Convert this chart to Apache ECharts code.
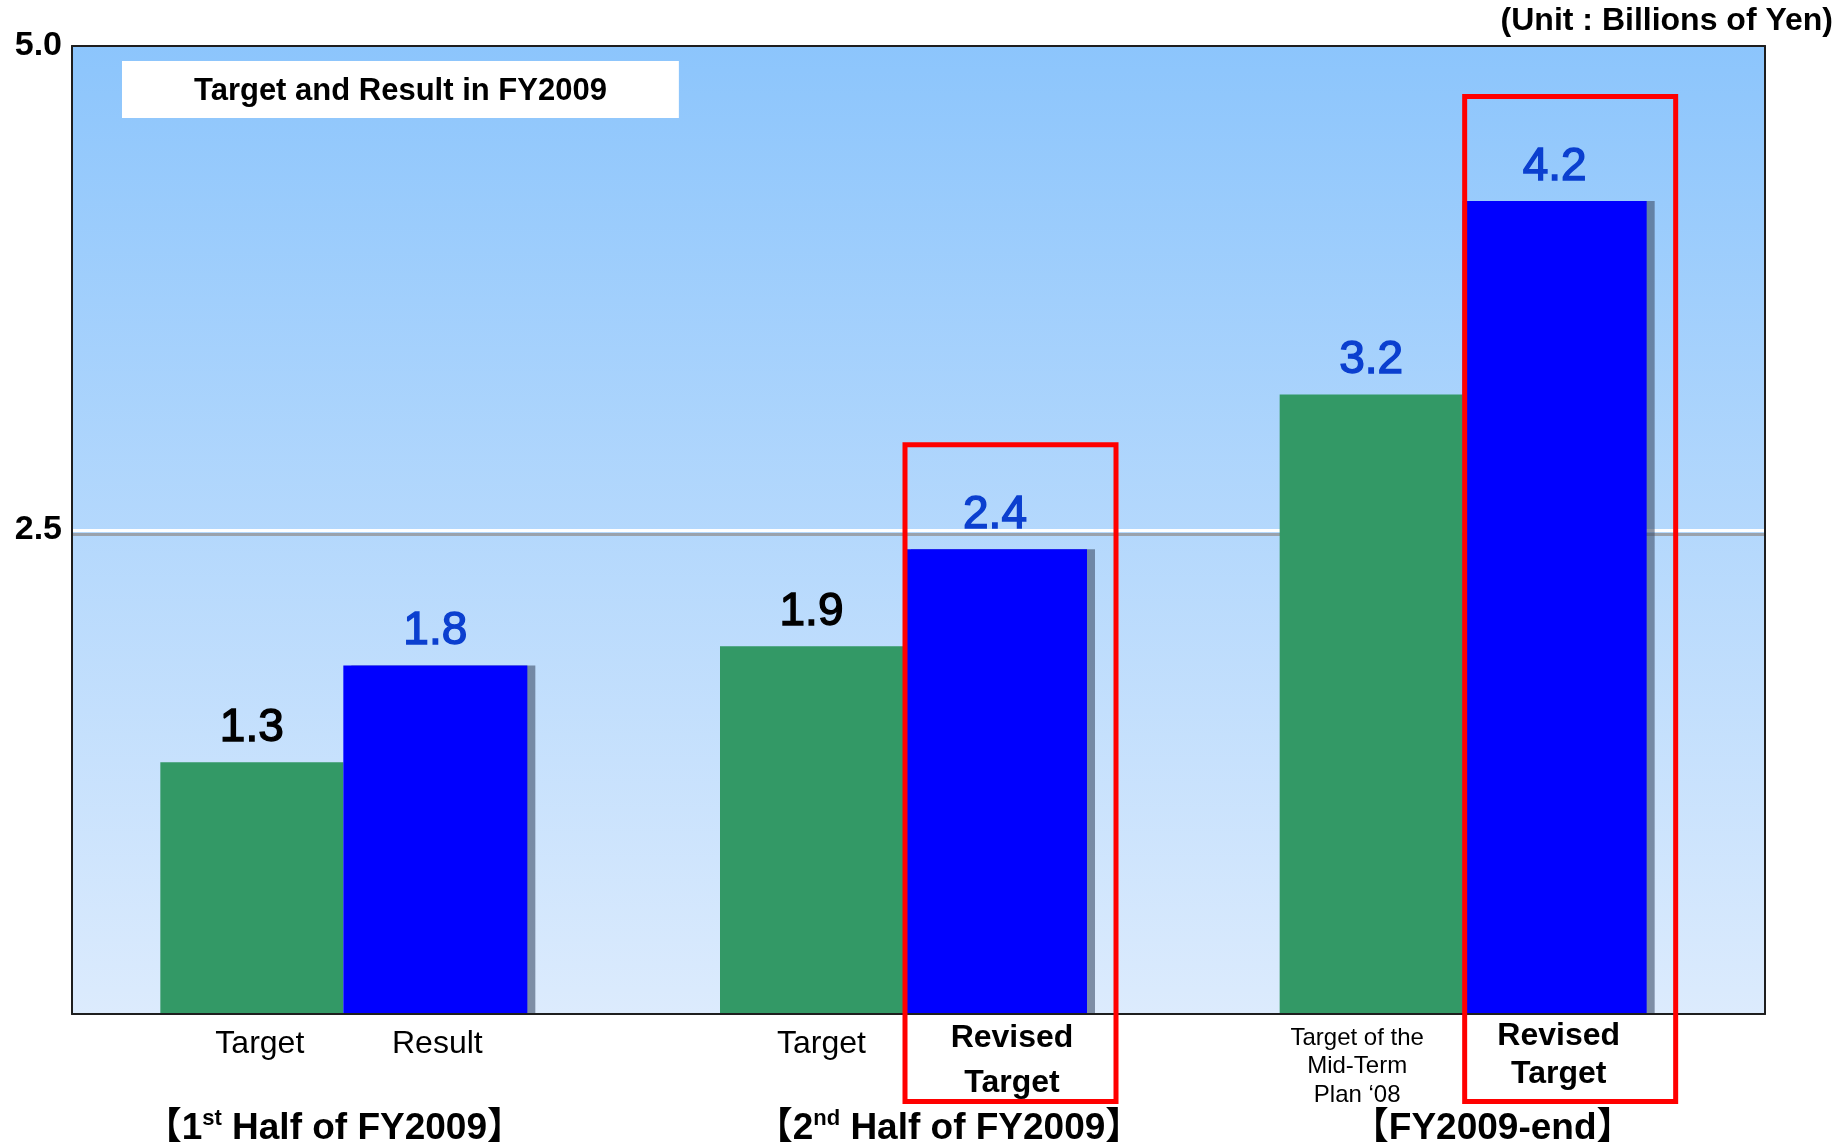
<!DOCTYPE html>
<html>
<head>
<meta charset="utf-8">
<script src="https://cdn.jsdelivr.net/npm/echarts@6/dist/echarts.min.js"></script>
<style>
  html, body { margin: 0; padding: 0; background: #ffffff; }
  #chart { width: 1848px; height: 1148px; }
</style>
</head>
<body>
<div id="chart"></div>
<script>
// ---- data ----
const groupLabels = ['【1st Half of FY2009】', '【2nd Half of FY2009】', '【FY2009-end】'];
const targetNames = ['Target', 'Target', 'Target of the\nMid-Term\nPlan ‘08'];
const targetValues = [1.3, 1.9, 3.2];
const resultNames = ['Result', 'Revised\nTarget', 'Revised\nTarget'];
const resultValues = [1.8, 2.4, 4.2];
const boxedGroups = [1, 2];          // groups whose revised target is framed in red
const yTicks = [0, 2.5, 5.0];
const chartTitle = 'Target and Result in FY2009';
const unitText = '(Unit : Billions of Yen)';

// ---- styling ----
const SANS = '"Liberation Sans", Arial, "Noto Sans CJK JP", sans-serif';
const GREEN = '#339966';
const BLUE = '#0000ff';
const LABEL_BLUE = '#0b3fcf';
const targetLabelColors = ['#000000', '#000000', LABEL_BLUE];
const groupShift = [-10, 46, 30];   // horizontal nudge of the period captions

const targetNameStyle = [
  { fontSize: 32, lineHeight: 36, fontWeight: 'normal', distance: 12, offset: [8, 0] },
  { fontSize: 32, lineHeight: 36, fontWeight: 'normal', distance: 12, offset: [10, 0] },
  { fontSize: 24, lineHeight: 28.5, fontWeight: 'normal', distance: 10, offset: [-14, 0] }
];
const resultNameStyle = [
  { fontSize: 32, lineHeight: 36, fontWeight: 'normal', distance: 12, offset: [2, 0] },
  { fontSize: 32, lineHeight: 45, fontWeight: 'bold', distance: 2, offset: [17, 0] },
  { fontSize: 32, lineHeight: 38, fontWeight: 'bold', distance: 3, offset: [4, 0] }
];

const yMin = yTicks[0];
const yMax = yTicks[yTicks.length - 1];
const yStep = yTicks[1] - yTicks[0];

function valueLabel(color) {
  return {
    show: true, position: 'top', distance: 11,
    fontFamily: SANS, fontSize: 46, lineHeight: 46, color: color,
    textBorderColor: color, textBorderWidth: 1.4,
    formatter: p => p.value.toFixed(1)
  };
}

function nameItems(values, names, styles) {
  return values.map((v, i) => ({
    value: v,
    label: Object.assign({
      show: true, position: 'bottom', color: '#000000', fontFamily: SANS,
      align: 'center', formatter: names[i]
    }, styles[i])
  }));
}

// rich styles for the period captions (incl. ordinal superscripts and nudges)
const groupRich = {
  g: { fontFamily: SANS, fontSize: 37, fontWeight: 'bold', lineHeight: 42, color: '#000' },
  sup: { fontFamily: SANS, fontSize: 22, fontWeight: 'bold', lineHeight: 24, verticalAlign: 'top', color: '#000' }
};
groupShift.forEach((s, i) => {
  groupRich['l' + i] = { width: Math.max(1, 2 * Math.max(0, s)), fontSize: 10, lineHeight: 42 };
  groupRich['r' + i] = { width: Math.max(1, 2 * Math.max(0, -s)), fontSize: 10, lineHeight: 42 };
});

function groupFormatter(v, i) {
  const m = v.match(/^(【?\d+)(st|nd|rd|th)(.*)$/);
  const body = m ? `{g|${m[1]}}{sup|${m[2]}}{g|${m[3]}}` : `{g|${v}}`;
  return `{l${i}| }${body}{r${i}| }`;
}

const frameLine = { show: true, onZero: false, lineStyle: { color: '#1e1e1e', width: 2 } };

const chart = echarts.init(document.getElementById('chart'), null, { renderer: 'canvas' });

chart.setOption({
  animation: false,
  backgroundColor: '#ffffff',
  title: [
    {
      text: chartTitle, left: 122, top: 61,
      backgroundColor: '#ffffff', padding: [13, 72, 9, 72],
      textStyle: { fontFamily: SANS, fontSize: 31, fontWeight: 'bold', lineHeight: 35, color: '#000' }
    },
    {
      text: unitText, right: 15, top: 3, padding: 0,
      textStyle: { fontFamily: SANS, fontSize: 32, fontWeight: 'bold', lineHeight: 36, color: '#000' }
    }
  ],
  grid: [
    {   // plot frame with the sky gradient
      left: 72, top: 46, width: 1693, height: 968, z: 0,
      show: true, borderWidth: 0,
      backgroundColor: {
        type: 'linear', x: 0, y: 0, x2: 0, y2: 1,
        colorStops: [{ offset: 0, color: '#8cc5fc' }, { offset: 1, color: '#dcebfd' }]
      }
    },
    {   // bars
      left: 64, top: 46, width: 1679, height: 968, show: false
    }
  ],
  xAxis: [
    { gridIndex: 0, type: 'value', min: 0, max: 1, position: 'bottom', z: 4,
      axisLine: frameLine, axisTick: { show: false }, axisLabel: { show: false }, splitLine: { show: false } },
    { gridIndex: 0, type: 'value', min: 0, max: 1, position: 'top', z: 4,
      axisLine: frameLine, axisTick: { show: false }, axisLabel: { show: false }, splitLine: { show: false } },
    { gridIndex: 1, type: 'category', data: groupLabels, position: 'bottom',
      axisLine: { show: false }, axisTick: { show: false }, splitLine: { show: false },
      axisLabel: { show: true, interval: 0, margin: 94, formatter: groupFormatter, rich: groupRich } },
    { gridIndex: 1, type: 'category', data: groupLabels, position: 'bottom', show: false }
  ],
  yAxis: [
    { gridIndex: 0, type: 'value', min: yMin, max: yMax, interval: yStep, position: 'left', z: 1,
      axisLine: frameLine, axisTick: { show: false },
      axisLabel: { margin: 10, fontFamily: SANS, fontSize: 34, fontWeight: 'bold', color: '#000',
                   showMinLabel: false, formatter: v => (v === yMin ? '' : v.toFixed(1)) },
      splitLine: { show: true, lineStyle: {
        color: ['rgba(0,0,0,0)', '#ffffff'], width: 3,
        shadowColor: '#9aa2ac', shadowOffsetY: 4, shadowBlur: 0 } } },
    { gridIndex: 0, type: 'value', min: yMin, max: yMax, interval: yStep, position: 'right', z: 4,
      axisLine: frameLine, axisTick: { show: false }, axisLabel: { show: false }, splitLine: { show: false } },
    { gridIndex: 1, type: 'value', min: yMin, max: yMax, interval: yStep, show: false }
  ],
  series: [
    {
      name: 'Target', type: 'bar', xAxisIndex: 2, yAxisIndex: 2,
      barWidth: 183, barGap: '0%', z: 3,
      itemStyle: { color: GREEN },
      data: targetValues.map((v, i) => ({ value: v, label: valueLabel(targetLabelColors[i]) }))
    },
    {
      name: 'Result', type: 'bar', xAxisIndex: 2, yAxisIndex: 2,
      barWidth: 184, barGap: '0%', z: 3,
      itemStyle: { color: BLUE, shadowColor: 'rgba(64,80,106,0.6)', shadowOffsetX: 8, shadowOffsetY: 0, shadowBlur: 0 },
      label: valueLabel(LABEL_BLUE),
      data: resultValues
    },
    {   // captions below the target bars
      name: 'TargetCaption', type: 'bar', xAxisIndex: 3, yAxisIndex: 2, silent: true,
      barWidth: 183, barGap: '0%', z: 2,
      itemStyle: { color: 'rgba(0,0,0,0)' },
      data: nameItems(targetValues, targetNames, targetNameStyle)
    },
    {   // captions below the result bars
      name: 'ResultCaption', type: 'bar', xAxisIndex: 3, yAxisIndex: 2, silent: true,
      barWidth: 184, barGap: '0%', z: 2,
      itemStyle: { color: 'rgba(0,0,0,0)' },
      data: nameItems(resultValues, resultNames, resultNameStyle)
    },
    {   // red frames around the revised targets
      name: 'RevisedFrame', type: 'custom', xAxisIndex: 2, yAxisIndex: 2,
      z: 6, silent: true, clip: false,
      encode: { x: 0, y: 1 },
      data: boxedGroups.map(i => [i, resultValues[i]]),
      renderItem: (params, api) => {
        const top = api.coord([api.value(0), api.value(1)]);
        const base = api.coord([api.value(0), 0]);
        const y0 = top[1] - 104.5;
        const y1 = base[1] + 87.5;
        return {
          type: 'rect',
          shape: { x: top[0] + 1.5, y: y0, width: 211, height: y1 - y0 },
          style: { fill: 'none', stroke: '#ff0000', lineWidth: 5 }
        };
      }
    }
  ]
});
</script>
</body>
</html>
